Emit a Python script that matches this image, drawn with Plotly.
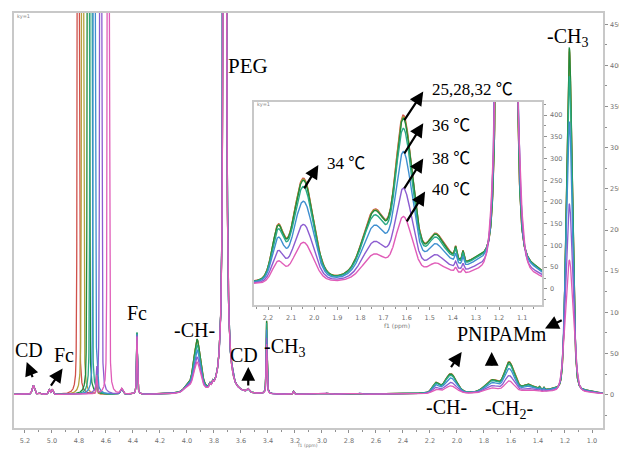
import numpy as np
import plotly.graph_objects as go

# ---------------- data ----------------
temps = ["25", "28", "32", "34", "36", "38", "40"]
colors = ["#d0504a", "#b5a03c", "#1f8a3c", "#2aaa88", "#3f8fd0", "#8c5cd0", "#e05cb8"]

# HDO (water) signal position per temperature (ppm)
hdo_ppm = [4.805, 4.773, 4.731, 4.711, 4.687, 4.639, 4.583]
hdo_height = 15000
# relative PNIPAM intensity per temperature
pnipam_scale = [1.01, 1.00, 0.99, 0.93, 0.79, 0.57, 0.40]
# PNIPAM -CH3 (1.168 ppm): height and half width per temperature
ch3_height = [4150, 4180, 4200, 3850, 3300, 2300, 1620]
ch3_hw = [0.025, 0.025, 0.025, 0.026, 0.028, 0.031, 0.035]
# -CH- (3.925 ppm) height per temperature
ch_height = [640, 640, 645, 575, 515, 430, 370]
# -CH3 (3.41 ppm) height per temperature
och3_height = [880, 880, 885, 860, 780, 680, 600]
# Fc (4.37 ppm) height per temperature
fc_height = [740, 740, 750, 750, 730, 715, 700]

# temperature-independent peaks: centre, height, half width, Lorentz fraction
fixed_ppm = [5.138, 5.090, 5.020, 4.998, 4.668, 4.484, 4.000, 3.830, 3.810,
             3.720, 3.665, 3.548, 3.210, 3.080, 2.960, 2.860, 2.720, 2.600]
fixed_h = [110, 15, 55, 60, 220, 65, 60, 45, 45,
           36000, 50, 40, 35, 8, 12, 8, 10, 6]
fixed_w = [0.010, 0.010, 0.007, 0.007, 0.004, 0.010, 0.030, 0.006, 0.006,
           0.005, 0.003, 0.010, 0.005, 0.020, 0.020, 0.020, 0.020, 0.020]
fixed_eta = [0.5, 0.5, 0.5, 0.5, 0.5, 0.5, 0.5, 0.5, 0.5,
             1.0, 0.5, 0.5, 0.5, 0.5, 0.5, 0.5, 0.5, 0.5]

# PNIPAM peaks at full intensity (25 C)
pn_ppm = [2.157, 2.047, 1.738, 1.618, 1.575, 1.477, 1.400, 1.388, 1.356, 1.300, 1.030]
pn_h = [120, 230, 150, 320, 90, 85, 30, 25, 25, 20, 10]
pn_w = [0.030, 0.050, 0.060, 0.038, 0.035, 0.045, 0.050, 0.005, 0.005, 0.040, 0.030]
pn_eta = [0.3, 0.1, 0.2, 0.2, 0.2, 0.3, 0.3, 0.5, 0.5, 0.3, 0.3]
# broad background under the PNIPAM region
hump_ppm = [1.65, 1.65]
hump_h = [12, 10]
hump_w = [0.70, 0.60]
hump_scaled = [False, True]

main_xticks = [5.2, 5.0, 4.8, 4.6, 4.4, 4.2, 4.0, 3.8, 3.6, 3.4, 3.2, 3.0,
               2.8, 2.6, 2.4, 2.2, 2.0, 1.8, 1.6, 1.4, 1.2, 1.0]
main_yticks = [0, 500, 1000, 1500, 2000, 2500, 3000, 3500, 4000, 4500]
inset_xticks = [2.2, 2.1, 2.0, 1.9, 1.8, 1.7, 1.6, 1.5, 1.4, 1.3, 1.2, 1.1]
inset_yticks = [0, 50, 100, 150, 200, 250, 300, 350, 400]

# ---------------- spectrum model ----------------
ppm = np.linspace(5.30, 0.90, 8801)


def pv(x, c, h, w, eta):
    d2 = ((x - c) / w) ** 2
    return h * (eta / (1.0 + d2) + (1.0 - eta) * np.exp(-np.log(2.0) * d2))


def spectrum(i):
    y = np.zeros_like(ppm)
    for c, h, w, e in zip(fixed_ppm, fixed_h, fixed_w, fixed_eta):
        y += pv(ppm, c, h, w, e)
    y += pv(ppm, hdo_ppm[i], hdo_height, 0.006, 0.2)
    y += pv(ppm, 4.370, fc_height[i], 0.004, 0.6)
    y += pv(ppm, 3.410, och3_height[i], 0.004, 0.6)
    y += pv(ppm, 3.925, ch_height[i], 0.030, 0.5)
    s = pnipam_scale[i]
    for c, h, w, e in zip(pn_ppm, pn_h, pn_w, pn_eta):
        y += pv(ppm, c, h * s, w, e)
    y += pv(ppm, 1.168, ch3_height[i], ch3_hw[i], 0.2)
    for c, h, w, sc in zip(hump_ppm, hump_h, hump_w, hump_scaled):
        y += pv(ppm, c, h * (s if sc else 1.0), w, 0.0)
    return y


fig = go.Figure()
inset_mask = (ppm < 2.30) & (ppm > 0.98)
for i, t in enumerate(temps):
    y = spectrum(i)
    fig.add_trace(go.Scatter(x=ppm, y=y, mode="lines", name=t + " ℃",
                             line=dict(color=colors[i], width=1.3),
                             showlegend=False, hoverinfo="skip"))
    fig.add_trace(go.Scatter(x=ppm[inset_mask], y=y[inset_mask], mode="lines",
                             xaxis="x2", yaxis="y2", name=t + " ℃",
                             line=dict(color=colors[i], width=1.4),
                             showlegend=False, hoverinfo="skip"))

# ---------------- layout ----------------
# the page body adds an 8 px offset; size the figure so it ends at the window edge
OFF = 8
W, H = 627 - OFF, 449 - OFF
PX0, PX1, PY0, PY1 = 14, 603, 13, 428       # plot frame in window pixels
L, T = PX0 - OFF, PY0 - OFF
R, B = W - (PX1 - OFF), H - (PY1 - OFF)
PW, PH = PX1 - PX0, PY1 - PY0


def P(px, py):
    return (px - PX0) / PW, (PY1 - py) / PH


serif = "Liberation Serif, Times New Roman, Noto Sans CJK SC, serif"
tickfont = dict(family="DejaVu Sans", size=6.5, color="#707070")

anns = []


def text(s, px, py, size=20, xanchor="center", yanchor="middle", color="black", family=serif):
    x, y = P(px, py)
    anns.append(dict(text=s, x=x, y=y, xref="paper", yref="paper", showarrow=False,
                     xanchor=xanchor, yanchor=yanchor,
                     font=dict(family=family, size=size, color=color)))


def arrow(x0, y0, x1, y1, xr, yr):
    anns.append(dict(text="", x=x1, y=y1, ax=x0, ay=y0, xref=xr, yref=yr,
                     axref=xr, ayref=yr, showarrow=True, arrowhead=2,
                     arrowsize=1.25, arrowwidth=2.2, arrowcolor="black"))


# main labels
text("PEG", 248, 66, 21)
text("-CH<sub>3</sub>", 567, 38, 20)
text("CD", 29, 350, 20)
text("Fc", 64, 355, 20)
text("Fc", 137, 313, 20)
text("-CH-", 194, 330, 20)
text("CD", 244, 355, 20)
text("-CH<sub>3</sub>", 284, 347, 20)
text("PNIPAMm", 502, 334, 20)
text("-CH-", 446, 407, 20)
text("-CH<sub>2</sub>-", 509, 409, 20)
# inset labels
text("25,28,32 ℃", 430, 90, 17, xanchor="left")
text("36 ℃", 430, 126, 17, xanchor="left")
text("38 ℃", 430, 158, 17, xanchor="left")
text("40 ℃", 430, 190, 17, xanchor="left")
text("34 ℃", 325, 163, 17, xanchor="left")
# small texts
small = "DejaVu Sans"
text("ky=1", 15, 17, 5, xanchor="left", color="#888", family=small)
text("ky=1", 255, 105, 5, xanchor="left", color="#888", family=small)
text("f1 (ppm)", 308, 449.5, 4.5, yanchor="bottom", color="#777", family=small)
text("f1 (ppm)", 397, 326, 6, color="#777", family=small)

# main arrows (tail on spectrum -> head at label)
arrow(5.139, 195, 5.187, 396, "x", "y")
arrow(5.015, 92, 4.921, 316, "x", "y")
arrow(3.546, 92, 3.546, 336, "x", "y")
arrow(2.052, 316, 1.965, 518, "x", "y")
arrow(1.743, 336, 1.743, 518, "x", "y")
arrow(1.213, 912, 1.348, 802, "x", "y")
# inset arrows
arrow(1.614, 385, 1.528, 454, "x2", "y2")
arrow(1.614, 308, 1.528, 381, "x2", "y2")
arrow(1.614, 228, 1.528, 300, "x2", "y2")
arrow(1.603, 152, 1.520, 224, "x2", "y2")
arrow(2.047, 228, 1.982, 285, "x2", "y2")

# inset domain from pixel frame
ix0, _ = P(254, 0)
ix1, _ = P(542, 0)
_, iy1 = P(0, 102)
_, iy0 = P(0, 305)

axis_common = dict(showgrid=False, zeroline=False, showline=True, mirror=True,
                   automargin=False,
                   linecolor="#c8c8c8", linewidth=1.5, ticks="outside",
                   tickcolor="#909090", ticklen=3, tickwidth=1, tickfont=tickfont)

fig.update_layout(
    width=W, height=H, autosize=False,
    margin=dict(l=L, r=R, t=T, b=B, pad=0, autoexpand=False),
    paper_bgcolor="white", plot_bgcolor="white",
    showlegend=False,
    annotations=anns,
    xaxis=dict(range=[5.281, 0.9185], tickvals=main_xticks,
               ticktext=["%.1f" % v for v in main_xticks],
               minor=dict(dtick=0.1, tick0=1.0, ticks="outside", ticklen=2, tickcolor="#909090"),
               ticklabelstandoff=2, **axis_common),
    yaxis=dict(range=[-406, 4637], side="right", tickvals=main_yticks,
               ticktext=[str(v) for v in main_yticks],
               minor=dict(dtick=250, tick0=0, ticks="outside", ticklen=2, tickcolor="#909090"),
               ticklabelstandoff=1, **axis_common),
    xaxis2=dict(domain=[ix0, ix1], anchor="y2", range=[2.2606, 1.0139],
                tickvals=inset_xticks, ticktext=["%.1f" % v for v in inset_xticks],
                minor=dict(dtick=0.05, tick0=1.0, ticks="outside", ticklen=2, tickcolor="#909090"),
                ticklabelstandoff=2, **axis_common),
    yaxis2=dict(domain=[iy0, iy1], anchor="x2", side="right", range=[-37, 430],
                tickvals=inset_yticks, ticktext=[str(v) for v in inset_yticks],
                minor=dict(dtick=25, tick0=0, ticks="outside", ticklen=2, tickcolor="#909090"),
                ticklabelstandoff=2, **axis_common),
)

fig.write_html("out.html")
